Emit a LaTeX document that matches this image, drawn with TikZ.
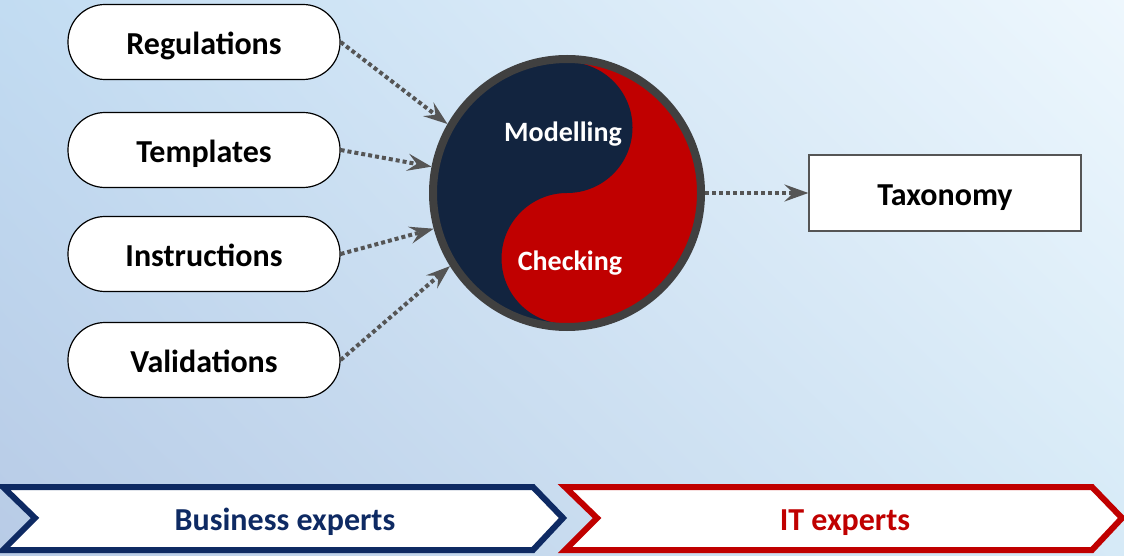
\documentclass[tikz,border=0pt]{standalone}
\usepackage{fontspec}
\setmainfont{Carlito}
\usetikzlibrary{arrows.meta,shadings}
\definecolor{bgtl}{HTML}{C2DCF2}
\definecolor{bgtr}{HTML}{EEF7FD}
\definecolor{bgbl}{HTML}{B8CBE6}
\definecolor{bgbr}{HTML}{D6EAF7}
\definecolor{yinblue}{HTML}{12243F}
\definecolor{yangred}{HTML}{C00000}
\definecolor{ringgrey}{HTML}{404040}
\definecolor{flowgrey}{HTML}{555555}
\definecolor{bizblue}{HTML}{0E2A63}
\tikzset{
  bigtext/.style={font=\fontsize{32}{38}\selectfont\bfseries,
    text height=31pt, text depth=6pt},
  yytext/.style={font=\fontsize{28}{32}\selectfont\bfseries, text=white,
    text height=28pt, text depth=5pt},
  pill/.style={bigtext, draw=black, line width=1.2pt, fill=white,
    rounded corners=37pt, minimum width=272pt, minimum height=75pt},
  flow/.style={draw=flowgrey, line width=4pt, dash pattern=on 4pt off 3pt,
    -{Stealth[length=24pt, width=17pt, inset=9pt]}},
  chev/.style={line width=6pt, fill=white, line join=miter}
}
\begin{document}
\begin{tikzpicture}[x=1pt, y=1pt]
  \useasboundingbox (0,0) rectangle (1124,555);
  \shade[upper left=bgtl, upper right=bgtr, lower left=bgbl, lower right=bgbr]
    (0,0) rectangle (1124,555);
  % inputs
  \node[pill] (reg) at (204,513) {Regulations};
  \node[pill] (tmp) at (204,405) {Templates};
  \node[pill] (ins) at (204,301) {Instructions};
  \node[pill] (val) at (204,195) {Validations};
  % yin yang
  \fill[yangred] (567,362) circle (131);
  \fill[yinblue] (567,493) arc[start angle=90, end angle=270, radius=131]
    arc[start angle=270, end angle=90, radius=65.5]
    arc[start angle=-90, end angle=90, radius=65.5] -- cycle;
  \node[circle, draw=ringgrey, line width=8pt, minimum size=268pt] (yy) at (567,362) {};
  \node[yytext] (mod) at (563,425) {Modelling};
  \node[yytext] (chk) at (570,296) {Checking};
  % output
  \node[bigtext, draw=flowgrey, line width=1.2pt, fill=white,
    minimum width=272pt, minimum height=76pt] (tax) at (945,362) {Taxonomy};
  \begin{scope}[flow]
    \draw (reg.east) to (yy.150);
    \draw (tmp.east) to (yy.169);
    \draw (ins.east) to (yy.195);
    \draw (val.east) to (yy.212);
    \draw (yy.east) to (tax.west);
  \end{scope}
  % experts
  \draw[chev, draw=bizblue] (3,68) -- (533,68) -- (563,37) -- (533,5) -- (3,5) -- (35,37) -- cycle;
  \draw[chev, draw=yangred] (565,68) -- (1092,68) -- (1122,37) -- (1092,5) -- (565,5) -- (597,37) -- cycle;
  \node[bigtext, text=bizblue] (biz) at (285,37) {Business experts};
  \node[bigtext, text=yangred] (it) at (845,37) {IT experts};
\end{tikzpicture}
\end{document}
